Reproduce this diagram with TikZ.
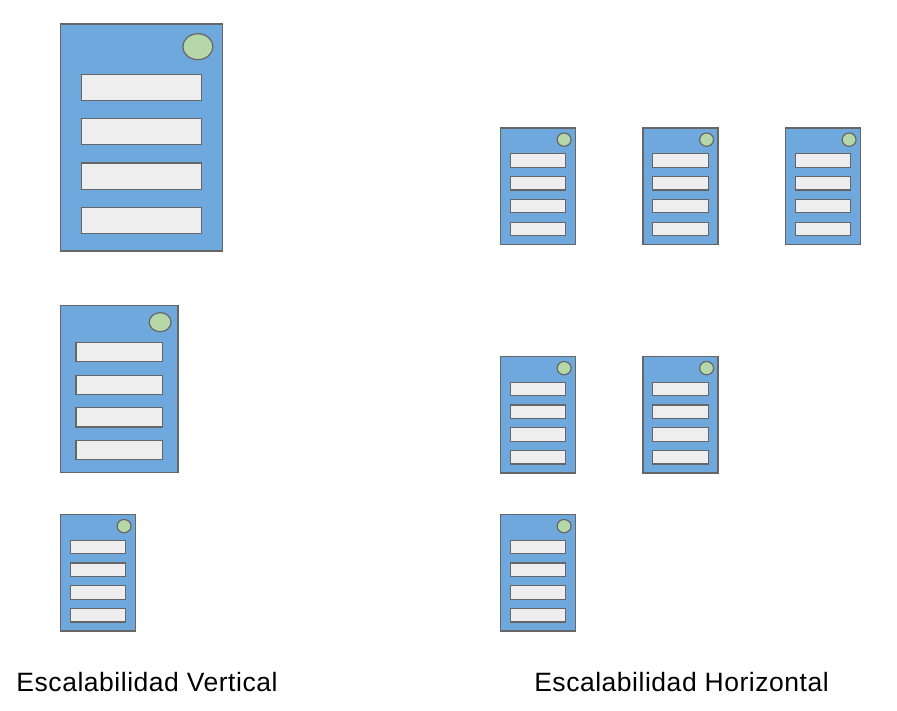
\documentclass[tikz,border=0pt]{standalone}
\usepackage{xcolor}
\usepackage{fontspec}
\setmainfont[LetterSpace=2.0]{Liberation Sans}
\usetikzlibrary{positioning,calc,shapes.geometric}

\definecolor{serverblue}{HTML}{6FA8DC}
\definecolor{slotgray}{HTML}{EEEEEE}
\definecolor{ledgreen}{HTML}{B6D7A8}
\definecolor{edgegray}{HTML}{666666}

% name, placement, width, height
\newcommand{\server}[4]{
  \node[serverbody, minimum width=#3pt, minimum height=#4pt, #2] (#1) {};
  \node[led, minimum width=0.186*#3pt, minimum height=0.114*#4pt] (#1-led)
    at ($(#1.north east)+(-0.152*#3,0.1*#4)$) {};
  \foreach \i in {0,1,2,3}
    \node[slot, minimum width=0.737*#3pt, minimum height=0.115*#4pt] (#1-slot\i)
      at ($(#1.north)+(0,0.279*#4+0.1955*\i*#4)$) {};
}

\begin{document}
\begin{tikzpicture}[
  x=1pt, y=-1pt,
  serverbody/.style={rectangle, draw=edgegray, fill=serverblue, line width=1.2pt, inner sep=0pt, outer sep=0pt, anchor=north west},
  slot/.style={rectangle, draw=edgegray, fill=slotgray, line width=1.2pt, inner sep=0pt, outer sep=0pt},
  led/.style={ellipse, draw=edgegray, fill=ledgreen, line width=1.2pt, inner sep=0pt, outer sep=0pt},
  caption/.style={inner sep=0pt, font=\fontsize{26.5}{30}\selectfont}
]
\useasboundingbox (0,0) rectangle (897,711);
% vertical
\server{large}{at={(60.5,24)}}{162}{227}
\server{medium}{at={(60.5,305.5)}}{117.5}{167}
\server{small}{at={(60.5,514.5)}}{75}{116.5}
% horizontal
\server{rowA}{at={(500.5,128)}}{75}{116.5}
\server{rowB}{right=67.5pt of rowA.north east, anchor=north west}{75}{116.5}
\server{rowC}{right=67.5pt of rowB.north east, anchor=north west}{75}{116.5}
\server{rowD}{at={(500.5,356.5)}}{75}{116.5}
\server{rowE}{right=67.5pt of rowD.north east, anchor=north west}{75}{116.5}
\server{rowF}{at={(500.5,514.5)}}{75}{116.5}
\node[caption] (vertical) at (147,682) {Escalabilidad Vertical};
\node[caption] (horizontal) at (681.5,682) {Escalabilidad Horizontal};
\end{tikzpicture}
\end{document}
